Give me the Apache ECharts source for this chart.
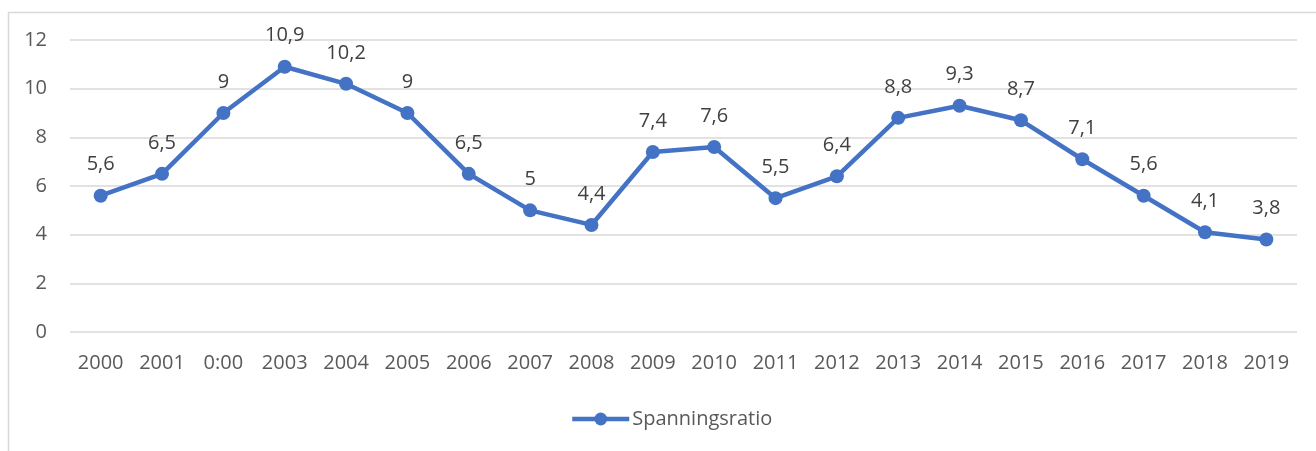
<!DOCTYPE html>
<html>
<head>
<meta charset="utf-8">
<style>
  html, body { margin: 0; padding: 0; background: #fff; }
  #chart { width: 1316px; height: 451px; }
</style>
</head>
<body>
<div id="chart"></div>
<script src="https://cdn.jsdelivr.net/npm/echarts@6/dist/echarts.min.js"></script>
<script>
  // Data
  var years = ['2000', '2001', '0:00', '2003', '2004', '2005', '2006', '2007', '2008', '2009',
               '2010', '2011', '2012', '2013', '2014', '2015', '2016', '2017', '2018', '2019'];
  var spanningsratio = [5.6, 6.5, 9, 10.9, 10.2, 9, 6.5, 5, 4.4, 7.4,
                        7.6, 5.5, 6.4, 8.8, 9.3, 8.7, 7.1, 5.6, 4.1, 3.8];
  var seriesName = 'Spanningsratio';

  var chart = echarts.init(document.getElementById('chart'));
  var font = "'Open Sans', 'Noto Sans', sans-serif";

  var option = {
    animation: false,
    textStyle: { fontFamily: font },
    graphic: [{
      type: 'rect',
      left: 6, top: 10,
      shape: { width: 1400, height: 500 },
      style: { fill: 'none', stroke: '#D9D9D9', lineWidth: 1.5 },
      silent: true
    }],
    grid: { left: 70, right: 19, top: 40, bottom: 119 },
    legend: {
      left: 565, top: 404,
      itemWidth: 57, itemHeight: 16, itemGap: 4,
      lineStyle: { width: 4.5 },
      textStyle: { color: '#595959', fontSize: 20, fontFamily: font, padding: [0, 0, 0, -2] },
      data: [seriesName]
    },
    xAxis: {
      type: 'category',
      data: years,
      boundaryGap: true,
      axisLine: { show: false },
      axisTick: { show: false },
      axisLabel: { color: '#595959', fontSize: 20, margin: 21, interval: 0 }
    },
    yAxis: {
      type: 'value',
      min: 0, max: 12, interval: 2,
      axisLine: { show: false },
      axisTick: { show: false },
      axisLabel: { color: '#595959', fontSize: 20, margin: 23 },
      splitLine: { lineStyle: { color: '#D9D9D9', width: 1.5 } }
    },
    series: [{
      name: seriesName,
      type: 'line',
      data: spanningsratio,
      symbol: 'circle',
      symbolSize: 14,
      lineStyle: { color: '#4472C4', width: 4.5 },
      itemStyle: { color: '#4472C4' },
      label: {
        show: true,
        position: 'top',
        distance: 14,
        color: '#404040',
        fontSize: 20,
        formatter: function (p) { return String(p.value).replace('.', ','); }
      }
    }]
  };

  chart.setOption(option);
</script>
</body>
</html>
